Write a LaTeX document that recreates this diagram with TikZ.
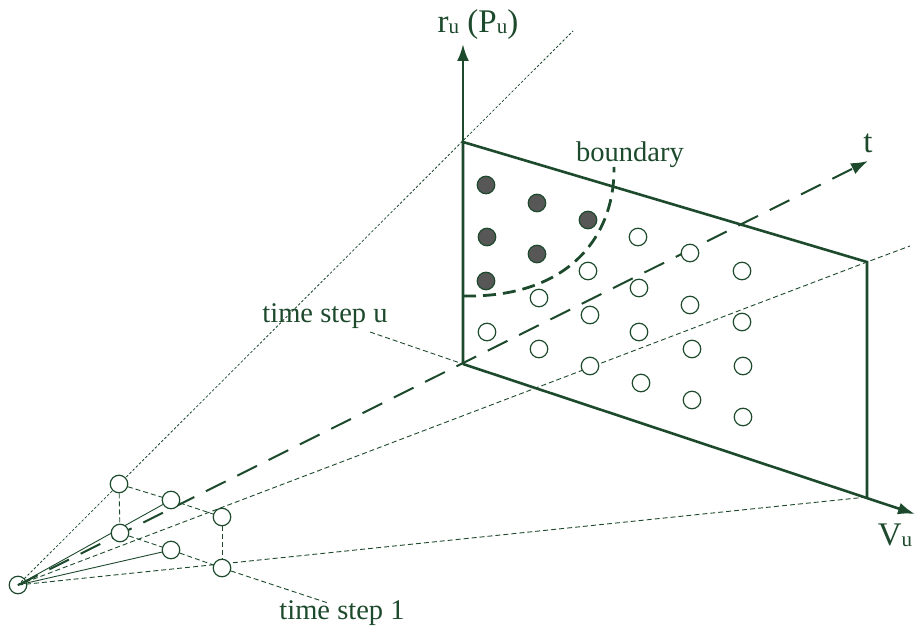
\documentclass[tikz,border=0pt]{standalone}
\usepackage{fontspec}
\setmainfont{Liberation Serif}
\usetikzlibrary{arrows.meta}
\definecolor{dkgreen}{HTML}{1D4A2C}
\definecolor{dotgray}{HTML}{575757}
\pgfdeclarelayer{bg}
\pgfsetlayers{bg,main}
\tikzset{
  axis_line/.style = {draw=dkgreen, line width=2.6pt,
    -{Latex[length=17pt,width=12pt]}},% axes r_u et V_u
  plane_edge/.style = {draw=dkgreen, line width=2.6pt},
  t_axis/.style = {draw=dkgreen, line width=2pt,
    dash pattern=on 22pt off 13pt, -{Latex[length=17pt,width=12pt]}},
  bound_line/.style = {draw=dkgreen, line width=2.8pt,
    dash pattern=on 13pt off 7pt},
  sample/.style = {circle, draw=dkgreen, fill=white, line width=1.2pt,
    minimum size=17.5pt, inner sep=0pt},% point hors frontiere
  full_sample/.style = {sample, fill=dotgray},% point dans la frontiere
  thin_dash/.style = {draw=dkgreen, line width=0.9pt,
    dash pattern=on 5pt off 3pt},
  thin_dot/.style = {draw=dkgreen, line width=0.8pt,
    dash pattern=on 2.5pt off 2pt},
  thin_solid/.style = {draw=dkgreen, line width=0.9pt},
  lbl/.style = {text=dkgreen, font=\fontsize{28.5}{32}\selectfont,
    anchor=base, inner sep=0pt},
  axis_lbl/.style = {lbl, font=\fontsize{33}{36}\selectfont}
}
\newcommand{\lowu}{\raisebox{-1pt}{\fontsize{21}{21}\selectfont u}}

\begin{document}
\begin{tikzpicture}[x=1pt, y=-1pt]
  \useasboundingbox (0,0) rectangle (916,631);
  % plan de la tranche u
  \coordinate (TL) at (463,142);
  \coordinate (TR) at (867,262);
  \coordinate (BR) at (867,497);
  \coordinate (BL) at (463,364);
  \coordinate (rTip) at (463,44);
  \coordinate (vTip) at (915,514);
  \coordinate (tTip) at (868,161);
  \coordinate (farTL) at (573,31);
  \coordinate (farTR) at (910,246);
  \coordinate (leadU) at (370,332);
  \coordinate (lead1) at (328,603);
  \coordinate (bStart) at (463,296);
  \coordinate (bEnd) at (614,167);

  % petit repere pres de l'origine
  \node [sample, fill=none] (src) at (18,585) {};
  \node [sample] (a1) at (119,484) {};
  \node [sample] (a2) at (171,500) {};
  \node [sample] (a3) at (222,517) {};
  \node [sample] (b1) at (120,533) {};
  \node [sample] (b2) at (171,550) {};
  \node [sample] (b3) at (222,568) {};

  % points dans la frontiere
  \foreach \x/\y [count=\i] in {486/185, 537/203, 588/220,
      487/237, 537/254, 486/281}
    \node [full_sample] (in\i) at (\x,\y) {};
  % points hors frontiere
  \foreach \x/\y [count=\i] in {638/237, 690/253, 742/271,
      588/271, 539/298, 487/332, 639/288, 690/305, 742/322,
      590/315, 639/332, 692/349, 743/366, 539/349, 590/366,
      641/383, 692/400, 743/417}
    \node [sample] (out\i) at (\x,\y) {};

  % labels
  \node [axis_lbl] (rlab) at (478,33) {r\lowu{} (P\lowu)};
  \node [axis_lbl] (tlab) at (868,153) {t};
  \node [axis_lbl] (vlab) at (895,545) {V\lowu};
  \node [lbl] (blab) at (630,162) {boundary};
  \node [lbl] (ulab) at (325,322) {time step u};
  \node [lbl] (onelab) at (342,619) {time step 1};

  \begin{pgfonlayer}{bg}
    \draw [thin_dot] (src.center) -- (farTL);
    \draw [thin_dash] (src.center) -- (TR) -- (farTR);
    \draw [thin_dash] (src.center) -- (BR);
    \draw [thin_solid] (src.center) -- (a2);
    \draw [thin_solid] (src.center) -- (b2);
    \draw [t_axis] (src.center) -- (tTip);
    \draw [thin_dash] (a1) -- (a2) -- (a3);
    \draw [thin_dash] (b1) -- (b2) -- (b3);
    \draw [thin_dash] (a1) -- (b1);
    \draw [thin_dash] (a3) -- (b3);
    \draw [thin_dash] (b3) -- (lead1);
    \draw [thin_dash] (leadU) -- (BL);
    \draw [bound_line] (bStart) .. controls (570,298) and (615,235) .. (bEnd);
    \draw [plane_edge] (BL) -- (TL) -- (TR) -- (BR);
    \draw [axis_line] (BL) -- (rTip);
    \draw [axis_line] (BL) -- (vTip);
  \end{pgfonlayer}
\end{tikzpicture}
\end{document}
